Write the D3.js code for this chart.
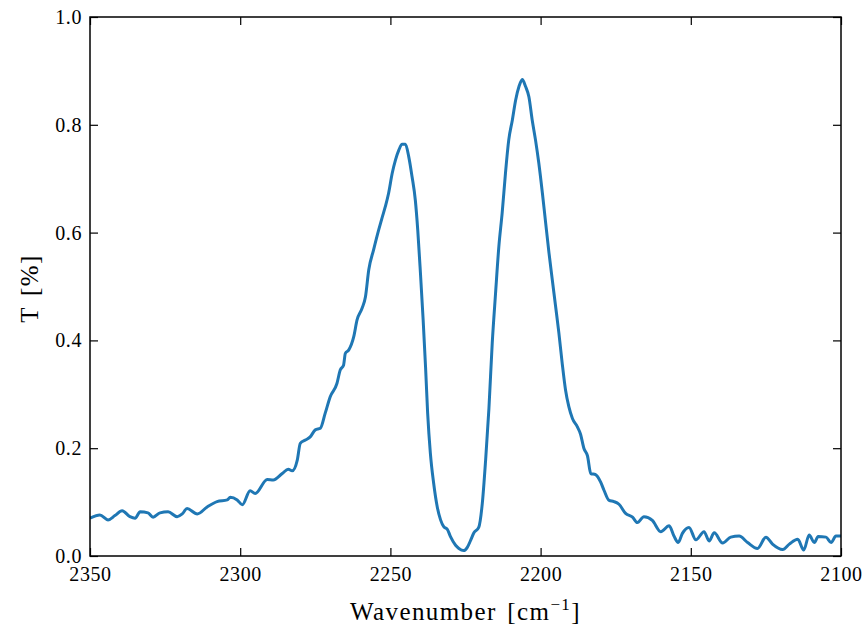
<!DOCTYPE html>
<html lang="en">
<head>
    <meta charset="UTF-8">
    <title>IR spectrum</title>
    <script src="https://cdn.jsdelivr.net/npm/d3@7/dist/d3.min.js"></script>
    <style>
        * { margin: 0; }
        body { background: #fff; }
        text { font-family: "Liberation Serif", "DejaVu Serif", serif; fill: #000; }
    </style>
</head>
<body>
    <div id="chart"></div>
    <script>
        // wavenumbers (cm^-1) and transmittance
        const wavenumber = [
            2350.0, 2346.7, 2344.0, 2341.7, 2339.3, 2336.7, 2335.0, 2333.3, 2330.7, 2329.0,
            2326.7, 2324.0, 2321.0, 2319.3, 2317.7, 2314.3, 2311.0, 2307.7, 2304.3, 2303.3,
            2301.0, 2299.3, 2296.7, 2295.0, 2291.0, 2289.0, 2286.0, 2284.0, 2282.7, 2281.0,
            2280.0, 2278.3, 2276.7, 2275.0, 2273.3, 2271.7, 2270.0, 2267.8, 2266.7, 2265.6,
            2265.0, 2263.9, 2262.2, 2261.1, 2259.4, 2258.3, 2257.2, 2255.6, 2253.9, 2252.8,
            2251.7, 2250.6, 2249.4, 2248.3, 2247.2, 2246.1, 2245.0, 2243.9, 2242.8, 2241.7,
            2240.9, 2240.0, 2239.1, 2238.3, 2237.6, 2236.7, 2235.6, 2234.4, 2233.3, 2232.2,
            2231.1, 2230.0, 2228.3, 2227.2, 2225.6, 2224.4, 2223.3, 2222.2, 2220.6, 2219.4,
            2218.3, 2217.2, 2216.1, 2215.0, 2213.9, 2212.8, 2211.7, 2210.6, 2209.4, 2208.3,
            2207.2, 2206.1, 2205.0, 2203.9, 2202.8, 2201.7, 2200.6, 2199.4, 2198.3, 2197.2,
            2196.1, 2195.0, 2193.9, 2192.8, 2191.7, 2190.6, 2189.4, 2187.8, 2186.7, 2185.6,
            2184.4, 2183.3, 2181.7, 2180.0, 2178.9, 2177.2, 2175.6, 2173.9, 2171.7, 2169.4,
            2167.8, 2165.6, 2162.8, 2160.0, 2157.2, 2155.6, 2154.2, 2152.8, 2150.6, 2148.3,
            2145.6, 2143.9, 2142.2, 2139.4, 2136.7, 2133.9, 2131.1, 2127.8, 2125.0, 2122.8,
            2119.4, 2117.2, 2114.4, 2112.4, 2110.6, 2108.9, 2107.6, 2105.0, 2103.3, 2101.7,
            2100.0
        ];
        const transmittance = [
            0.070, 0.076, 0.067, 0.075, 0.084, 0.073, 0.070, 0.082, 0.080, 0.072,
            0.080, 0.082, 0.073, 0.078, 0.088, 0.078, 0.091, 0.101, 0.104, 0.109,
            0.104, 0.095, 0.121, 0.116, 0.142, 0.141, 0.153, 0.161, 0.158, 0.178,
            0.209, 0.215, 0.221, 0.234, 0.237, 0.265, 0.296, 0.320, 0.345, 0.354,
            0.376, 0.382, 0.407, 0.438, 0.460, 0.481, 0.531, 0.568, 0.605, 0.627,
            0.648, 0.673, 0.710, 0.735, 0.753, 0.764, 0.764, 0.741, 0.704, 0.660,
            0.605, 0.525, 0.438, 0.351, 0.265, 0.191, 0.135, 0.091, 0.067, 0.054,
            0.050, 0.036, 0.020, 0.014, 0.010, 0.016, 0.029, 0.043, 0.053, 0.098,
            0.178, 0.274, 0.395, 0.487, 0.574, 0.636, 0.710, 0.772, 0.809, 0.846,
            0.871, 0.884, 0.871, 0.852, 0.809, 0.772, 0.729, 0.673, 0.617, 0.562,
            0.512, 0.463, 0.413, 0.357, 0.308, 0.277, 0.255, 0.240, 0.226, 0.200,
            0.186, 0.153, 0.151, 0.137, 0.122, 0.103, 0.101, 0.096, 0.079, 0.072,
            0.062, 0.073, 0.066, 0.045, 0.056, 0.037, 0.025, 0.042, 0.053, 0.030,
            0.045, 0.028, 0.043, 0.024, 0.035, 0.037, 0.025, 0.014, 0.035, 0.022,
            0.012, 0.022, 0.031, 0.011, 0.039, 0.025, 0.036, 0.035, 0.025, 0.037,
            0.037
        ];
        const xTicks = [2350, 2300, 2250, 2200, 2150, 2100];
        const yTicks = [0.0, 0.2, 0.4, 0.6, 0.8, 1.0];

        const width = 867, height = 625;
        const margin = { top: 17, right: 26, bottom: 69, left: 90 };
        const innerW = width - margin.left - margin.right;
        const innerH = height - margin.top - margin.bottom;

        const svg = d3.select('#chart').append('svg')
            .attr('width', width)
            .attr('height', height);

        const g = svg.append('g')
            .attr('transform', `translate(${margin.left},${margin.top})`);

        // x axis runs from high to low wavenumber
        const x = d3.scaleLinear().domain([2350, 2100]).range([0, innerW]);
        const y = d3.scaleLinear().domain([0, 1]).range([innerH, 0]);

        const data = wavenumber.map((w, i) => ({ w, t: transmittance[i] }));

        g.append('defs').append('clipPath').attr('id', 'clip')
            .append('rect').attr('width', innerW).attr('height', innerH);

        const line = d3.line()
            .x(d => x(d.w))
            .y(d => y(d.t))
            .curve(d3.curveMonotoneX);

        g.append('path')
            .datum(data)
            .attr('clip-path', 'url(#clip)')
            .attr('fill', 'none')
            .attr('stroke', '#1f77b4')
            .attr('stroke-width', 3)
            .attr('stroke-linejoin', 'round')
            .attr('d', line);

        // ticks point inwards on all four sides
        const tickLen = 8;
        const fmt = d3.format('.1f');

        const axBottom = g.append('g')
            .attr('transform', `translate(0,${innerH})`)
            .call(d3.axisBottom(x).tickValues(xTicks).tickSizeInner(-tickLen).tickSizeOuter(0).tickPadding(11).tickFormat(d3.format('d')));
        const axTop = g.append('g')
            .call(d3.axisTop(x).tickValues(xTicks).tickSizeInner(-tickLen).tickSizeOuter(0).tickFormat(''));
        const axLeft = g.append('g')
            .call(d3.axisLeft(y).tickValues(yTicks).tickSizeInner(-tickLen).tickSizeOuter(0).tickPadding(8).tickFormat(fmt));
        const axRight = g.append('g')
            .attr('transform', `translate(${innerW},0)`)
            .call(d3.axisRight(y).tickValues(yTicks).tickSizeInner(-tickLen).tickSizeOuter(0).tickFormat(''));

        [axBottom, axTop, axLeft, axRight].forEach(a => {
            a.select('.domain').remove();
            a.selectAll('.tick line').attr('stroke', '#000').attr('stroke-width', 1.2);
            a.selectAll('.tick text')
                .style('font-size', '20px')
                .style('letter-spacing', '0.6px')
                .attr('fill', '#000');
        });

        // frame
        g.append('rect')
            .attr('width', innerW)
            .attr('height', innerH)
            .attr('fill', 'none')
            .attr('stroke', '#000')
            .attr('stroke-width', 1.5);

        // axis labels
        const xl = svg.append('text')
            .attr('x', margin.left + innerW / 2)
            .attr('y', 620)
            .attr('text-anchor', 'middle')
            .style('font-size', '25px')
            .style('letter-spacing', '1.4px')
            .style('word-spacing', '3px');
        xl.append('tspan').text('Wavenumber [cm');
        xl.append('tspan').attr('dy', -10).style('font-size', '17px').text('\u22121');
        xl.append('tspan').attr('dy', 10).text(']');

        svg.append('text')
            .attr('transform', `translate(38,${margin.top + innerH / 2 + 2}) rotate(-90)`)
            .attr('text-anchor', 'middle')
            .style('font-size', '25px')
            .style('letter-spacing', '1.4px')
            .style('word-spacing', '3px')
            .text('T [%]');
    </script>
</body>
</html>
